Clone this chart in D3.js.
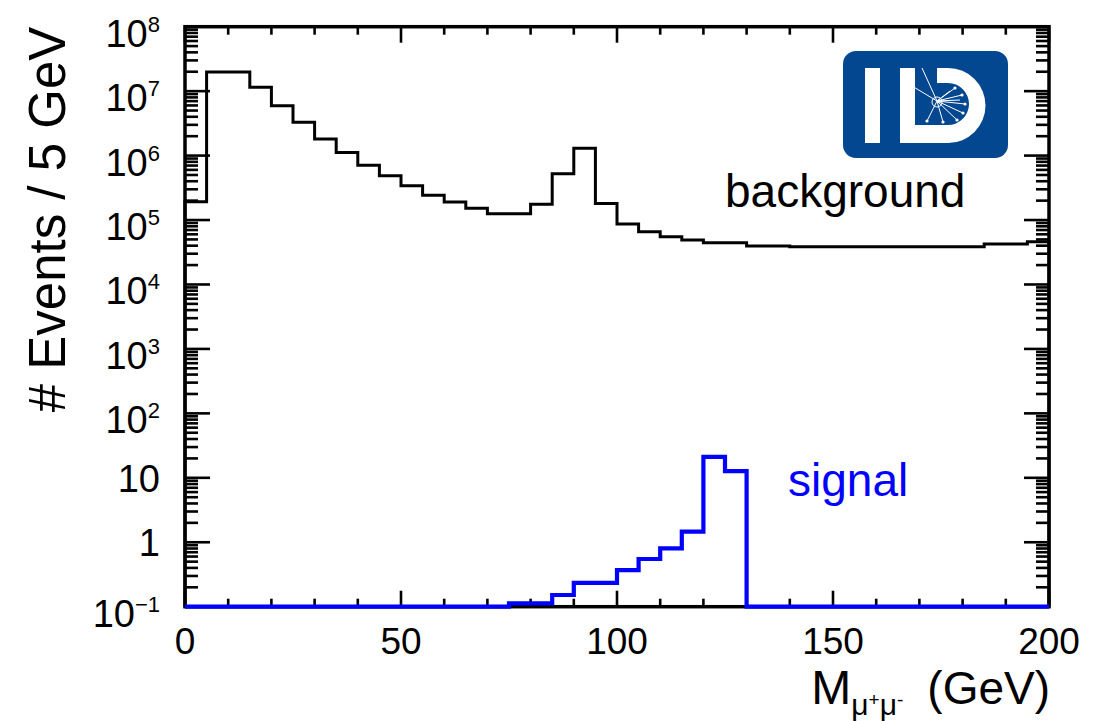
<!DOCTYPE html>
<html>
<head>
<meta charset="utf-8">
<script src="https://cdn.jsdelivr.net/npm/d3@7"></script>
<style>
  html, body { margin: 0; padding: 0; background: #fff; }
  svg { display: block; }
  text { font-family: "Liberation Sans", Arial, Helvetica, sans-serif; }
</style>
</head>
<body>
<svg id="chart" width="1106" height="721"></svg>
<script>
// ---- data ----
const binLowEdges = [0,5,10,15,20,25,30,35,40,45,50,55,60,65,70,75,80,85,90,95,
                     100,105,110,115,120,125,130,135,140,145,150,155,160,165,170,175,180,185,190,195];
const binWidth = 5;
const background = [1.92e5, 1.98e7, 1.98e7, 1.15e7, 5.94e6, 3.28e6, 1.81e6, 1.12e6, 7.06e5, 4.87e5,
                    3.41e5, 2.42e5, 1.90e5, 1.52e5, 1.25e5, 1.25e5, 1.75e5, 5.23e5, 1.30e6, 1.80e5,
                    8.67e4, 6.59e4, 5.51e4, 4.90e4, 4.45e4, 4.45e4, 3.95e4, 3.95e4, 3.86e4, 3.86e4,
                    3.86e4, 3.86e4, 3.86e4, 3.86e4, 3.86e4, 3.86e4, 3.86e4, 4.25e4, 4.25e4, 4.61e4];
const signal = [0, 0, 0, 0, 0, 0, 0, 0, 0, 0,
                0, 0, 0, 0, 0, 0.113, 0.113, 0.152, 0.235, 0.235,
                0.37, 0.55, 0.805, 1.46, 21.2, 12.7, 0, 0, 0, 0,
                0, 0, 0, 0, 0, 0, 0, 0, 0, 0];
const xMajorTicks = [0, 50, 100, 150, 200];
const xMinorTicks = [10, 20, 30, 40, 60, 70, 80, 90, 110, 120, 130, 140, 160, 170, 180, 190];
const yTickValues = [1e-1, 1, 10, 1e2, 1e3, 1e4, 1e5, 1e6, 1e7, 1e8];
const yTickBase = ["10", "1", "10", "10", "10", "10", "10", "10", "10", "10"];
const yTickExp  = ["\u22121", "", "", "2", "3", "4", "5", "6", "7", "8"];
const xTitle = "M", xTitleSub = ["\u03bc", "+", "\u03bc", "-"], xTitleUnit = "(GeV)";
const yTitle = "# Events / 5 GeV";
const bgLabel = "background", sigLabel = "signal";

// ---- layout ----
const L = 185, R = 1049, T = 26.7, B = 606.7;
const svg = d3.select("#chart");
const x = d3.scaleLinear().domain([0, 200]).range([L, R]);
const y = d3.scaleLog().domain([0.1, 1e8]).range([B, T]);
const yc = v => (v > 0.1 ? y(v) : B);

function histPoints(vals) {
  const pts = [[binLowEdges[0], 0]];
  vals.forEach((v, i) => {
    pts.push([binLowEdges[i], v]);
    pts.push([binLowEdges[i] + binWidth, v]);
  });
  pts.push([binLowEdges[vals.length - 1] + binWidth, 0]);
  return pts;
}
const line = d3.line().x(d => x(d[0])).y(d => yc(d[1]));

// frame
svg.append("rect").attr("x", L).attr("y", T).attr("width", R - L).attr("height", B - T)
  .attr("fill", "none").attr("stroke", "#000").attr("stroke-width", 3.5);

// ticks
const tk = svg.append("g").attr("stroke", "#000").attr("stroke-width", 2.6);
xMajorTicks.forEach(v => {
  tk.append("line").attr("x1", x(v)).attr("x2", x(v)).attr("y1", B).attr("y2", B - 16);
  tk.append("line").attr("x1", x(v)).attr("x2", x(v)).attr("y1", T).attr("y2", T + 16);
});
xMinorTicks.forEach(v => {
  tk.append("line").attr("x1", x(v)).attr("x2", x(v)).attr("y1", B).attr("y2", B - 8);
  tk.append("line").attr("x1", x(v)).attr("x2", x(v)).attr("y1", T).attr("y2", T + 8);
});
yTickValues.forEach(v => {
  tk.append("line").attr("x1", L).attr("x2", L + 25).attr("y1", y(v)).attr("y2", y(v));
  tk.append("line").attr("x1", R).attr("x2", R - 25).attr("y1", y(v)).attr("y2", y(v));
});
yTickValues.slice(0, -1).forEach(v => {
  for (let m = 2; m <= 9; m++) {
    const yy = y(v * m);
    tk.append("line").attr("x1", L).attr("x2", L + 13).attr("y1", yy).attr("y2", yy);
    tk.append("line").attr("x1", R).attr("x2", R - 13).attr("y1", yy).attr("y2", yy);
  }
});

// histograms
svg.append("path").datum(histPoints(background)).attr("d", line)
  .attr("fill", "none").attr("stroke", "#000").attr("stroke-width", 3);
svg.append("path").datum(histPoints(signal)).attr("d", line)
  .attr("fill", "none").attr("stroke", "#0000ff").attr("stroke-width", 4.2);

// x tick labels
xMajorTicks.forEach(v => {
  svg.append("text").attr("x", x(v)).attr("y", 654).attr("text-anchor", "middle")
    .attr("font-size", 37).text(v);
});

// y tick labels
yTickValues.forEach((v, i) => {
  const t = svg.append("text").attr("x", 160).attr("text-anchor", "end").attr("font-size", 38);
  if (yTickExp[i]) {
    t.attr("y", y(v) + 20);
    t.append("tspan").text(yTickBase[i]);
    t.append("tspan").attr("font-size", 22).attr("dy", -15).text(yTickExp[i]);
  } else {
    t.attr("y", y(v) + 14).text(yTickBase[i]);
  }
});

// axis titles
const xt = svg.append("text").attr("x", 1050).attr("y", 704).attr("text-anchor", "end")
  .attr("font-size", 46);
xt.append("tspan").attr("font-size", 48).text(xTitle);
xt.append("tspan").attr("font-size", 30).attr("dy", 11).text(xTitleSub[0]);
xt.append("tspan").attr("font-size", 19).attr("dy", -9).text(xTitleSub[1]);
xt.append("tspan").attr("font-size", 30).attr("dy", 9).text(xTitleSub[2]);
xt.append("tspan").attr("font-size", 19).attr("dy", -9).text(xTitleSub[3]);
xt.append("tspan").attr("dy", -2).attr("dx", 24).text(xTitleUnit);

svg.append("text").attr("transform", `translate(65,${T}) rotate(-90)`)
  .attr("text-anchor", "end").attr("font-size", 51).text(yTitle);

// labels
svg.append("text").attr("x", 725).attr("y", 207).attr("font-size", 46).attr("fill", "#000").text(bgLabel);
svg.append("text").attr("x", 788).attr("y", 496).attr("font-size", 46).attr("fill", "#0000ff").text(sigLabel);

// ILD logo (decoration)
const logo = svg.append("g");
logo.append("rect").attr("x", 843).attr("y", 51).attr("width", 165).attr("height", 107)
  .attr("rx", 13).attr("fill", "#044791");
logo.append("rect").attr("x", 865).attr("y", 68).attr("width", 15).attr("height", 75).attr("fill", "#fff");
logo.append("path").attr("fill", "#fff")
  .attr("d", "M900,68 H915 V125 H948 A21,21 0 0 0 948,83 H937 V68 H948 A37.5,37.5 0 0 1 948,143 H900 Z");
const ev = logo.append("g").attr("stroke", "#fff").attr("stroke-width", 1).attr("fill", "none");
[[907,83],[922,68],[927,121],[943,122],[955,88],[962,95],[965,104],[963,113],[957,120],[950,91],[960,100]]
  .forEach(p => ev.append("line").attr("x1", 937).attr("y1", 101).attr("x2", p[0]).attr("y2", p[1]));
ev.append("circle").attr("cx", 937).attr("cy", 102).attr("r", 5);
[[927,121],[943,122],[962,95],[965,104],[963,113],[957,120],[955,88]]
  .forEach(p => logo.append("circle").attr("cx", p[0]).attr("cy", p[1]).attr("r", 1.6).attr("fill", "#fff"));
</script>
</body>
</html>
